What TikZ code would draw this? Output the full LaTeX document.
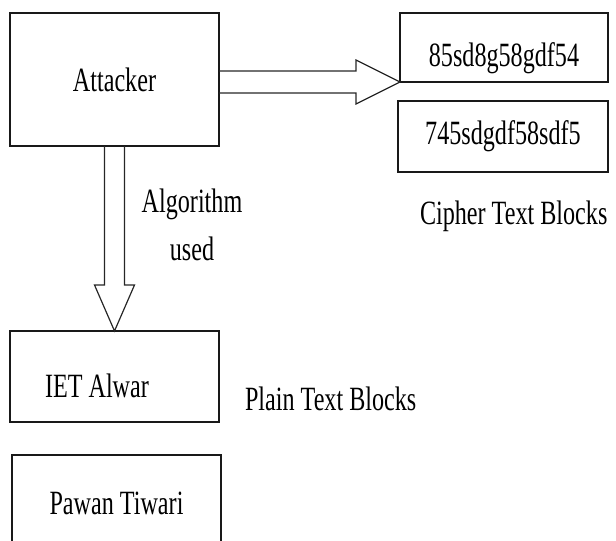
\documentclass[tikz,border=0pt]{standalone}
\usepackage{fontspec}
\setmainfont{Liberation Serif}[FakeStretch=0.71]
\usetikzlibrary{calc}
\begin{document}
\begin{tikzpicture}[x=1bp,y=-1bp,
  box/.style={draw=black!90, line width=1.3bp, rectangle, anchor=north west,
    inner sep=0pt, outer sep=0pt, font=\fontsize{34bp}{48bp}\selectfont},
  lbl/.style={inner sep=0pt, outer sep=0pt, font=\fontsize{34bp}{48bp}\selectfont},
  blockarrow/.style={draw=black!85, line width=1.2bp, line join=miter}]
\useasboundingbox (0,0) rectangle (616,541);
\clip (0,0) rectangle (616,541);

% boxes
\node[box, minimum width=209bp, minimum height=133bp] (attacker) at (10,13) {Attacker};
\node[box, minimum width=208bp, minimum height=69bp, text height=39bp, text depth=0bp] (c1) at (400,13) {85sd8g58gdf54};
\node[box, minimum width=210bp, minimum height=71bp] (c2) at (398,101) {745sdgdf58sdf5};
\node[box, minimum width=209bp, minimum height=91bp, text height=41bp, text depth=0bp] (iet) at (10,331) {IET Alwar\hspace*{35bp}};
\node[box, minimum width=209bp, minimum height=96bp] (pawan) at (12,455) {Pawan Tiwari};

% labels
\node[lbl, anchor=base west] (cipherlbl) at (420,225) {Cipher Text Blocks};
\node[lbl, anchor=base west] (plainlbl) at (245,410) {Plain Text Blocks};
\node[lbl, align=center] (algolbl) at (192,225) {Algorithm\\used};

% horizontal block arrow: Attacker -> cipher block
\draw[blockarrow]
  (attacker.east |- {$(c1.south west)+(0,-11)$})
  -- ($(c1.south west)+(-44,-11)$)
  -- ($(c1.south west)+(-44,-22)$)
  -- (c1.south west)
  -- ($(c1.south west)+(-44,22)$)
  -- ($(c1.south west)+(-44,11)$)
  -- (attacker.east |- {$(c1.south west)+(0,11)$});

% vertical block arrow: Attacker -> IET Alwar
\draw[blockarrow]
  ($(attacker.south)+(-10,0)$)
  -- ($(iet.north)+(-10,-46)$)
  -- ($(iet.north)+(-20,-46)$)
  -- (iet.north)
  -- ($(iet.north)+(20,-46)$)
  -- ($(iet.north)+(10,-46)$)
  -- ($(attacker.south)+(10,0)$);
\end{tikzpicture}
\end{document}
